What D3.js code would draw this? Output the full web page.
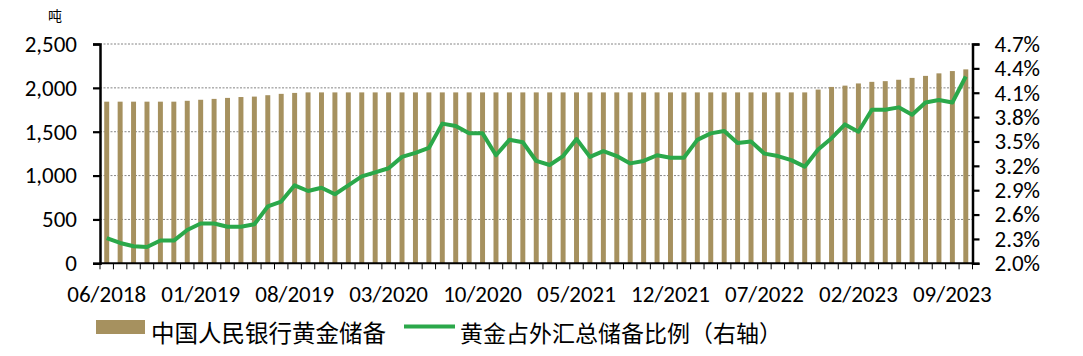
<!DOCTYPE html>
<html>
<head>
<meta charset="utf-8">
<script src="https://cdn.jsdelivr.net/npm/d3@7/dist/d3.min.js"></script>
<style>
  body { margin: 0; background: #fff; }
  svg { display: block; }
  .num { font-family: Carlito, Lato, "Liberation Sans", sans-serif; font-size: 23px; fill: #000; }
  .cjk { font-family: "Noto Sans CJK SC", sans-serif; fill: #000; }
</style>
</head>
<body>
<svg id="chart" width="1083" height="356"></svg>
<script>
// monthly categories 06/2018 .. 10/2023
const months = [
  "06/2018","07/2018","08/2018","09/2018","10/2018","11/2018","12/2018",
  "01/2019","02/2019","03/2019","04/2019","05/2019","06/2019","07/2019","08/2019","09/2019","10/2019","11/2019","12/2019",
  "01/2020","02/2020","03/2020","04/2020","05/2020","06/2020","07/2020","08/2020","09/2020","10/2020","11/2020","12/2020",
  "01/2021","02/2021","03/2021","04/2021","05/2021","06/2021","07/2021","08/2021","09/2021","10/2021","11/2021","12/2021",
  "01/2022","02/2022","03/2022","04/2022","05/2022","06/2022","07/2022","08/2022","09/2022","10/2022","11/2022","12/2022",
  "01/2023","02/2023","03/2023","04/2023","05/2023","06/2023","07/2023","08/2023","09/2023","10/2023"
];

const tickLabels = ["06/2018","01/2019","08/2019","03/2020","10/2020","05/2021","12/2021","07/2022","02/2023","09/2023"];

// PBOC gold holdings, tonnes
const goldTons = [
  1842.6,1842.6,1842.6,1842.6,1842.6,1842.6,1852.5,
  1864.3,1874.3,1885.5,1895.5,1900.4,1916.3,1931.6,1942.4,1948.3,1948.3,1948.3,1948.3,
  1948.3,1948.3,1948.3,1948.3,1948.3,1948.3,1948.3,1948.3,1948.3,1948.3,1948.3,1948.3,
  1948.3,1948.3,1948.3,1948.3,1948.3,1948.3,1948.3,1948.3,1948.3,1948.3,1948.3,1948.3,
  1948.3,1948.3,1948.3,1948.3,1948.3,1948.3,1948.3,1948.3,1948.3,1948.3,1980.4,2010.5,
  2025.4,2050.4,2068.4,2076.5,2092.3,2113.5,2136.5,2165.4,2191.5,2210.8
];

// gold share of FX reserves, % (right axis)
const goldShare = [
  2.31,2.25,2.21,2.20,2.28,2.28,2.41,2.49,2.49,2.45,
  2.45,2.48,2.70,2.76,2.96,2.89,2.93,2.85,2.96,3.07,
  3.12,3.17,3.31,3.36,3.42,3.72,3.69,3.60,3.60,3.33,
  3.52,3.49,3.26,3.21,3.32,3.53,3.31,3.38,3.32,3.23,
  3.26,3.33,3.30,3.30,3.52,3.60,3.63,3.48,3.50,3.35,
  3.32,3.27,3.19,3.40,3.54,3.71,3.62,3.89,3.89,3.92,
  3.83,3.98,4.01,3.98,4.30
];

const leftTicks = [0, 500, 1000, 1500, 2000, 2500];
const rightTicks = [2.0, 2.3, 2.6, 2.9, 3.2, 3.5, 3.8, 4.1, 4.4, 4.7];

const legendNames = ["中国人民银行黄金储备", "黄金占外汇总储备比例（右轴）"];

const BAR_COLOR = "#a6915f";
const LINE_COLOR = "#2ba84a";

var svg = d3.select("#chart");
var plot = { left: 100, right: 972.5, top: 44, bottom: 263.3 };

var x = d3
  .scaleBand()
  .domain(months)
  .range([plot.left, plot.right])
  .paddingInner(0.63)
  .paddingOuter(0.315);

var yL = d3.scaleLinear().domain([0, 2500]).range([plot.bottom, plot.top]);
var yR = d3.scaleLinear().domain([2.0, 4.7]).range([plot.bottom, plot.top]);

// dashed gridlines
svg
  .append("g")
  .selectAll("line")
  .data(leftTicks.slice(1))
  .enter()
  .append("line")
  .attr("x1", plot.left)
  .attr("x2", plot.right)
  .attr("y1", (d) => yL(d))
  .attr("y2", (d) => yL(d))
  .attr("stroke", "#666")
  .attr("stroke-width", 0.8)
  .attr("stroke-dasharray", "2,1.5");

// bars
svg
  .append("g")
  .selectAll("rect")
  .data(goldTons)
  .enter()
  .append("rect")
  .attr("x", (d, i) => x(months[i]))
  .attr("width", x.bandwidth())
  .attr("y", (d) => yL(d))
  .attr("height", (d) => yL(0) - yL(d))
  .attr("fill", BAR_COLOR);

// share line
var line = d3
  .line()
  .x((d, i) => x(months[i]) + x.bandwidth() / 2)
  .y((d) => yR(d));

svg
  .append("path")
  .datum(goldShare)
  .attr("d", line)
  .attr("fill", "none")
  .attr("stroke", LINE_COLOR)
  .attr("stroke-width", 4)
  .attr("stroke-linejoin", "round");

// left axis
var axisL = d3.axisLeft(yL).tickValues(leftTicks).tickSize(7).tickPadding(16).tickFormat(d3.format(","));
var gL = svg.append("g").attr("transform", `translate(${plot.left},0)`).call(axisL);

// right axis
var axisR = d3.axisRight(yR).tickValues(rightTicks).tickSize(7).tickPadding(15).tickFormat((d) => d3.format(".1f")(d) + "%");
var gR = svg.append("g").attr("transform", `translate(${plot.right},0)`).call(axisR);

[gL, gR].forEach((g) => {
  g.select(".domain").attr("stroke", "#000").attr("stroke-width", 2.5);
  g.selectAll(".tick line").attr("stroke", "#000").attr("stroke-width", 2.2);
  g.selectAll(".tick text").attr("class", "num").attr("font-family", null).attr("font-size", null);
});

// bottom axis: ticks between categories, labels every 7 months
var gB = svg.append("g");
gB.append("line")
  .attr("x1", plot.left)
  .attr("x2", plot.right)
  .attr("y1", plot.bottom)
  .attr("y2", plot.bottom)
  .attr("stroke", "#000")
  .attr("stroke-width", 2);

var bounds = months.map((m) => x(m) - (x.step() - x.bandwidth()) / 2).concat([plot.right]);
gB.selectAll(".btick")
  .data(bounds)
  .enter()
  .append("line")
  .attr("class", "btick")
  .attr("x1", (d) => d)
  .attr("x2", (d) => d)
  .attr("y1", plot.bottom)
  .attr("y2", plot.bottom + 6)
  .attr("stroke", "#000")
  .attr("stroke-width", 1);

gB.selectAll(".blabel")
  .data(tickLabels)
  .enter()
  .append("text")
  .attr("class", "num")
  .attr("x", (d) => x(d) + x.bandwidth() / 2)
  .attr("y", 302)
  .attr("text-anchor", "middle")
  .text((d) => d);

// unit label
svg.append("text").attr("class", "cjk").attr("x", 48).attr("y", 21).style("font-size", "14px").text("吨");

// legend
var leg = svg.append("g");
leg.append("rect").attr("x", 96).attr("y", 320).attr("width", 49).attr("height", 14).attr("fill", BAR_COLOR);
leg.append("text").attr("class", "cjk").attr("x", 151).attr("y", 332).attr("dominant-baseline", "central")
  .style("font-size", "23.5px").text(legendNames[0]);
leg.append("line").attr("x1", 404).attr("x2", 455).attr("y1", 326.5).attr("y2", 326.5)
  .attr("stroke", LINE_COLOR).attr("stroke-width", 4);
leg.append("text").attr("class", "cjk").attr("x", 460).attr("y", 332).attr("dominant-baseline", "central")
  .style("font-size", "23px").text(legendNames[1]);
</script>
</body>
</html>
